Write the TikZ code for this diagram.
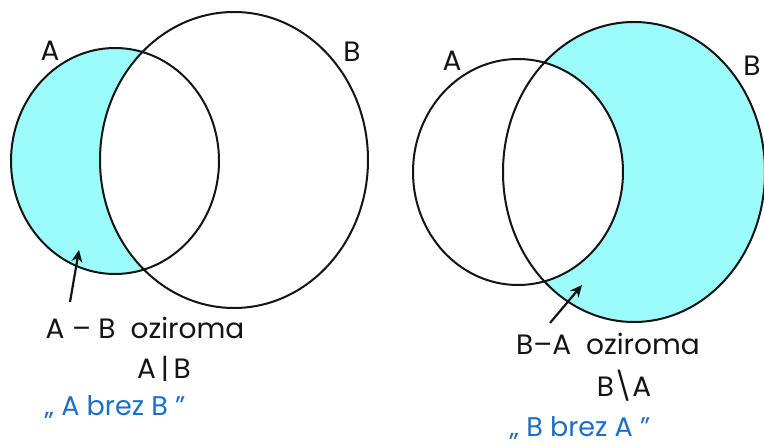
\documentclass[tikz,border=0pt]{standalone}
\usepackage{fontspec}
\setmainfont{Poppins}
\usetikzlibrary{arrows.meta}
\definecolor{venncyan}{HTML}{9BFBFB}
\definecolor{penblue}{HTML}{1B6FC8}
\definecolor{ink}{HTML}{141414}
\begin{document}
\begin{tikzpicture}[x=1pt,y=-1pt,
  lbl/.style={font=\fontsize{28}{30}\selectfont, text=ink, inner sep=0pt},
  note/.style={font=\fontsize{27}{29}\selectfont, text=penblue, inner sep=0pt},
  ring/.style={draw=ink, line width=2pt},
  pointer/.style={draw=ink, line width=2.2pt, -{Stealth[length=12pt,width=11pt]}}]
\useasboundingbox (0,0) rectangle (764,446);
\clip (0,0) rectangle (764,446);
\fill[white] (0,0) rectangle (764,446);
% left diagram: A \ B
\fill[venncyan] (115,161) ellipse [x radius=104, y radius=113];
\fill[white] (234,160) ellipse [x radius=134, y radius=148];
\draw[ring] (115,161) ellipse [x radius=104, y radius=113];
\draw[ring] (234,160) ellipse [x radius=134, y radius=148];
% right diagram: B \ A
\fill[venncyan] (634,172) ellipse [x radius=131, y radius=150];
\fill[white] (518,172) ellipse [x radius=105, y radius=113];
\draw[ring] (518,172) ellipse [x radius=105, y radius=113];
\draw[ring] (634,172) ellipse [x radius=131, y radius=150];
% set labels
\node[lbl] (lA) at (50,51) {A};
\node[lbl] (lB) at (352,52) {B};
\node[lbl] (rA) at (452,61) {A};
\node[lbl] (rB) at (752,66) {B};
% texts
\node[lbl] (t1) at (145,328) {A – B\ \ oziroma};
\node[lbl] (t2) at (164,369) {A\,|\,B};
\node[note] (t3) at (115,407) {„ A brez B ”};
\node[lbl] (t4) at (608,344) {B–A\ \ oziroma};
\node[lbl] (t5) at (624,386) {B\textbackslash A};
\node[note] (t6) at (580,428) {„ B brez A ”};
% pointers
\coordinate (tailL) at (70,302);
\coordinate (tipL) at (79,250);
\coordinate (tailR) at (550,323);
\coordinate (tipR) at (582,285);
\draw[pointer] (tailL) -- (tipL);
\draw[pointer] (tailR) -- (tipR);
\end{tikzpicture}
\end{document}
